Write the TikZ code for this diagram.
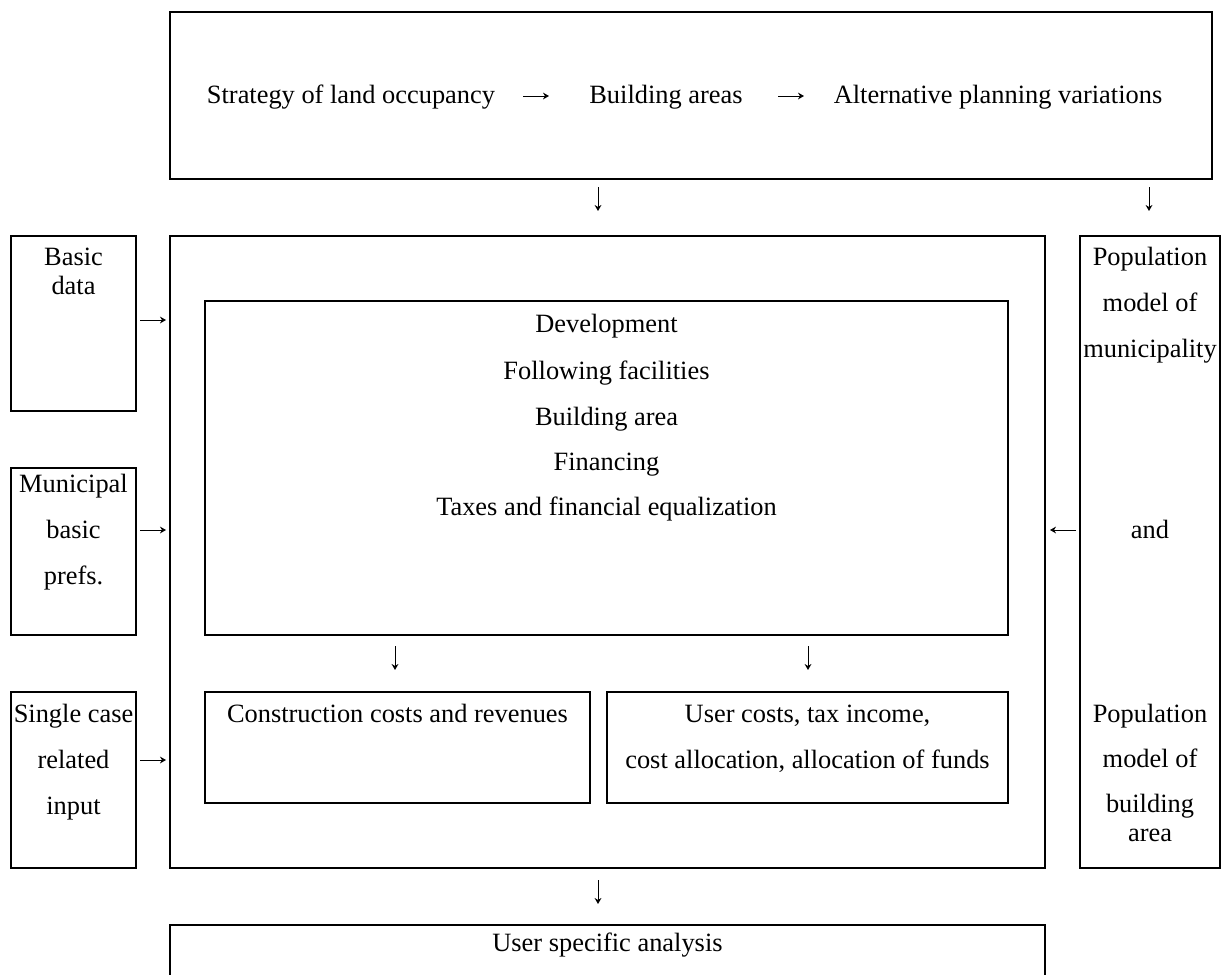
\documentclass[tikz,border=0pt]{standalone}
\usepackage{fontspec}
\setmainfont{Liberation Serif}
\usetikzlibrary{fit,arrows.meta}
\tikzset{
  box/.style={draw, line width=1pt, inner sep=0pt, fit=#1},
  txt/.style={font=\fontsize{13.2pt}{15pt}\selectfont, inner sep=0pt, anchor=base},
  conn/.style={line width=0.5pt, -{Stealth[length=3pt,width=3.4pt]}}
}
\begin{document}
\begin{tikzpicture}[x=0.5pt,y=-0.5pt]
\clip (0,0) rectangle (1223,975);
\fill[white] (0,0) rectangle (1223,975);
% corner coordinates
\coordinate (topA) at (170,12);   \coordinate (topB) at (1212,179);
\coordinate (basA) at (11,236);   \coordinate (basB) at (136,411);
\coordinate (mainA) at (170,236); \coordinate (mainB) at (1045,868);
\coordinate (devA) at (205,301);  \coordinate (devB) at (1008,635);
\coordinate (munA) at (11,468);   \coordinate (munB) at (136,635);
\coordinate (popA) at (1080,236); \coordinate (popB) at (1220,868);
\coordinate (conA) at (205,692);  \coordinate (conB) at (590,803);
\coordinate (useA) at (607,692);  \coordinate (useB) at (1008,803);
\coordinate (sinA) at (11,692);   \coordinate (sinB) at (136,868);
\coordinate (botA) at (170,925);  \coordinate (botB) at (1045,1010);
% boxes
\node[box=(topA)(topB)] (top) {};
\node[box=(basA)(basB)] (basic) {};
\node[box=(mainA)(mainB)] (main) {};
\node[box=(devA)(devB)] (dev) {};
\node[box=(munA)(munB)] (muni) {};
\node[box=(popA)(popB)] (pop) {};
\node[box=(conA)(conB)] (cons) {};
\node[box=(useA)(useB)] (user) {};
\node[box=(sinA)(sinB)] (single) {};
\node[box=(botA)(botB)] (bottom) {};
% top row
\node[txt] (t1) at (351,103) {Strategy of land occupancy};
\node[txt] (t2) at (666,103) {Building areas};
\node[txt] (t3) at (998,103) {Alternative planning variations};
% basic data
\node[txt] (b1) at (73.5,265) {Basic};
\node[txt] (b2) at (73.5,294) {data};
% municipal
\node[txt] (m1) at (73.5,492) {Municipal};
\node[txt] (m2) at (73.5,538) {basic};
\node[txt] (m3) at (73.5,584) {prefs.};
% single case
\node[txt] (s1) at (73.5,722) {Single case};
\node[txt] (s2) at (73.5,768) {related};
\node[txt] (s3) at (73.5,814) {input};
% development
\node[txt] (v1) at (606.5,332) {Development};
\node[txt] (v2) at (606.5,379) {Following facilities};
\node[txt] (v3) at (606.5,425) {Building area};
\node[txt] (v4) at (606.5,470) {Financing};
\node[txt] (v5) at (606.5,515) {Taxes and financial equalization};
% population
\node[txt] (p1) at (1150,265) {Population};
\node[txt] (p2) at (1150,311) {model of};
\node[txt] (p3) at (1150,357) {municipality};
\node[txt] (p4) at (1150,538) {and};
\node[txt] (p5) at (1150,722) {Population};
\node[txt] (p6) at (1150,767) {model of};
\node[txt] (p7) at (1150,812) {building};
\node[txt] (p8) at (1150,841) {area};
% lower inner boxes
\node[txt] (c1) at (397.5,722) {Construction costs and revenues};
\node[txt] (u1) at (807.5,722) {User costs, tax income,};
\node[txt] (u2) at (807.5,768) {cost allocation, allocation of funds};
% bottom
\node[txt] (z1) at (607.5,951) {User specific analysis};
% arrow end points
\coordinate (a1s) at (523,96);   \coordinate (a1e) at (549,96);
\coordinate (a2s) at (778,96);   \coordinate (a2e) at (804,96);
\coordinate (d1s) at (598,187);  \coordinate (d1e) at (598,211);
\coordinate (d2s) at (1149,187); \coordinate (d2e) at (1149,211);
\coordinate (r1s) at (140,320);  \coordinate (r1e) at (166,320);
\coordinate (r2s) at (140,530);  \coordinate (r2e) at (166,530);
\coordinate (r3s) at (140,760);  \coordinate (r3e) at (166,760);
\coordinate (l1s) at (1076,530); \coordinate (l1e) at (1050,530);
\coordinate (d3s) at (395,646);  \coordinate (d3e) at (395,670);
\coordinate (d4s) at (808,646);  \coordinate (d4e) at (808,670);
\coordinate (d5s) at (598,880);  \coordinate (d5e) at (598,904);
% connectors
\draw[conn] (a1s) -- (a1e);
\draw[conn] (a2s) -- (a2e);
\draw[conn] (d1s) -- (d1e);
\draw[conn] (d2s) -- (d2e);
\draw[conn] (r1s) -- (r1e);
\draw[conn] (r2s) -- (r2e);
\draw[conn] (r3s) -- (r3e);
\draw[conn] (l1s) -- (l1e);
\draw[conn] (d3s) -- (d3e);
\draw[conn] (d4s) -- (d4e);
\draw[conn] (d5s) -- (d5e);
\end{tikzpicture}
\end{document}
